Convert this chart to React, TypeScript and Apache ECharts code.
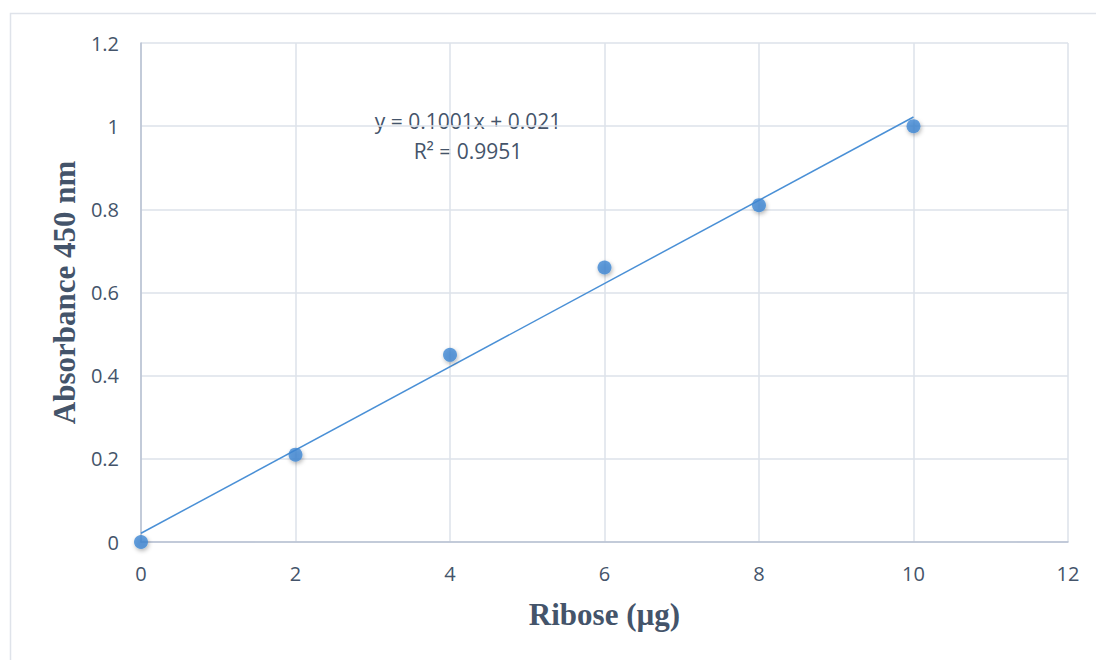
import React, { useEffect, useRef } from "react";
import * as echarts from "echarts";

// Ribose standard curve: amount (µg) vs absorbance at 450 nm
const riboseUg = [0, 2, 4, 6, 8, 10];
const absorbance = [0, 0.21, 0.45, 0.66, 0.81, 1.0];

// Linear trendline coefficients and fit quality
const slope = 0.1001;
const intercept = 0.021;
const rSquared = 0.9951;

const xTicks = { min: 0, max: 12, interval: 2 };
const yTicks = { min: 0, max: 1.2, interval: 0.2 };

const textColor = "#44546a";
const gridColor = "#dde2ea";
const axisColor = "#b7c0d2";
const pointColor = "#3d87d3";
const sansFamily = "'Open Sans', 'Noto Sans', sans-serif";
const serifFamily = "'Liberation Serif', 'DejaVu Serif', serif";

export default function App() {
  const ref = useRef<HTMLDivElement>(null);

  useEffect(() => {
    if (!ref.current) return;
    const chart = echarts.init(ref.current, undefined, { renderer: "svg" });

    const points = riboseUg.map((x, i) => [x, absorbance[i]]);
    const xFirst = riboseUg[0];
    const xLast = riboseUg[riboseUg.length - 1];
    const trend = [
      [xFirst, slope * xFirst + intercept],
      [xLast, slope * xLast + intercept],
    ];

    const tickFont = {
      color: textColor,
      fontFamily: sansFamily,
      fontSize: 20,
    };
    const titleFont = {
      color: textColor,
      fontFamily: serifFamily,
      fontWeight: "bold",
      fontSize: 31,
    };

    chart.setOption({
      animation: false,
      backgroundColor: "#ffffff",
      grid: { left: 141, right: 28, top: 43, bottom: 118 },
      xAxis: {
        type: "value",
        min: xTicks.min,
        max: xTicks.max,
        interval: xTicks.interval,
        axisLine: { show: true, onZero: false, lineStyle: { color: axisColor, width: 1.5 } },
        axisTick: { show: false },
        axisLabel: { ...tickFont, margin: 21 },
        splitLine: { show: true, lineStyle: { color: gridColor, width: 1.5 } },
        name: "Ribose (µg)",
        nameLocation: "middle",
        nameGap: 57,
        nameTextStyle: titleFont,
      },
      yAxis: {
        type: "value",
        min: yTicks.min,
        max: yTicks.max,
        interval: yTicks.interval,
        axisLine: { show: true, onZero: false, lineStyle: { color: axisColor, width: 1.5 } },
        axisTick: { show: false },
        axisLabel: { ...tickFont, margin: 22 },
        splitLine: { show: true, lineStyle: { color: gridColor, width: 1.5 } },
        name: "Absorbance 450 nm",
        nameLocation: "middle",
        nameGap: 61,
        nameTextStyle: titleFont,
      },
      series: [
        {
          type: "line",
          data: trend,
          symbol: "none",
          lineStyle: { color: "#4a90d6", width: 1.5 },
          z: 2,
        },
        {
          type: "scatter",
          data: points,
          symbol: "circle",
          symbolSize: 14,
          itemStyle: {
            color: pointColor,
            shadowBlur: 4,
            shadowColor: "rgba(0,0,0,0.35)",
            shadowOffsetX: 1,
            shadowOffsetY: 2,
          },
          z: 3,
        },
      ],
      graphic: [
        {
          type: "rect",
          shape: { x: 10.5, y: 13.5, width: 1200, height: 800 },
          style: { fill: "none", stroke: "#dfe3ea", lineWidth: 1.5 },
          silent: true,
          z: -10,
        },
        {
          type: "text",
          x: 468,
          y: 121,
          style: {
            text: `y = ${slope}x + ${intercept}`,
            fill: textColor,
            fontFamily: sansFamily,
            fontSize: 21,
            align: "center",
            verticalAlign: "middle",
          },
        },
        {
          type: "text",
          x: 468,
          y: 151,
          style: {
            text: `R² = ${rSquared}`,
            fill: textColor,
            fontFamily: sansFamily,
            fontSize: 21,
            align: "center",
            verticalAlign: "middle",
          },
        },
      ],
    });

    return () => chart.dispose();
  }, []);

  return (
    <div
      ref={ref}
      style={{ position: "fixed", left: 0, top: 0, width: 1096, height: 660 }}
    />
  );
}
